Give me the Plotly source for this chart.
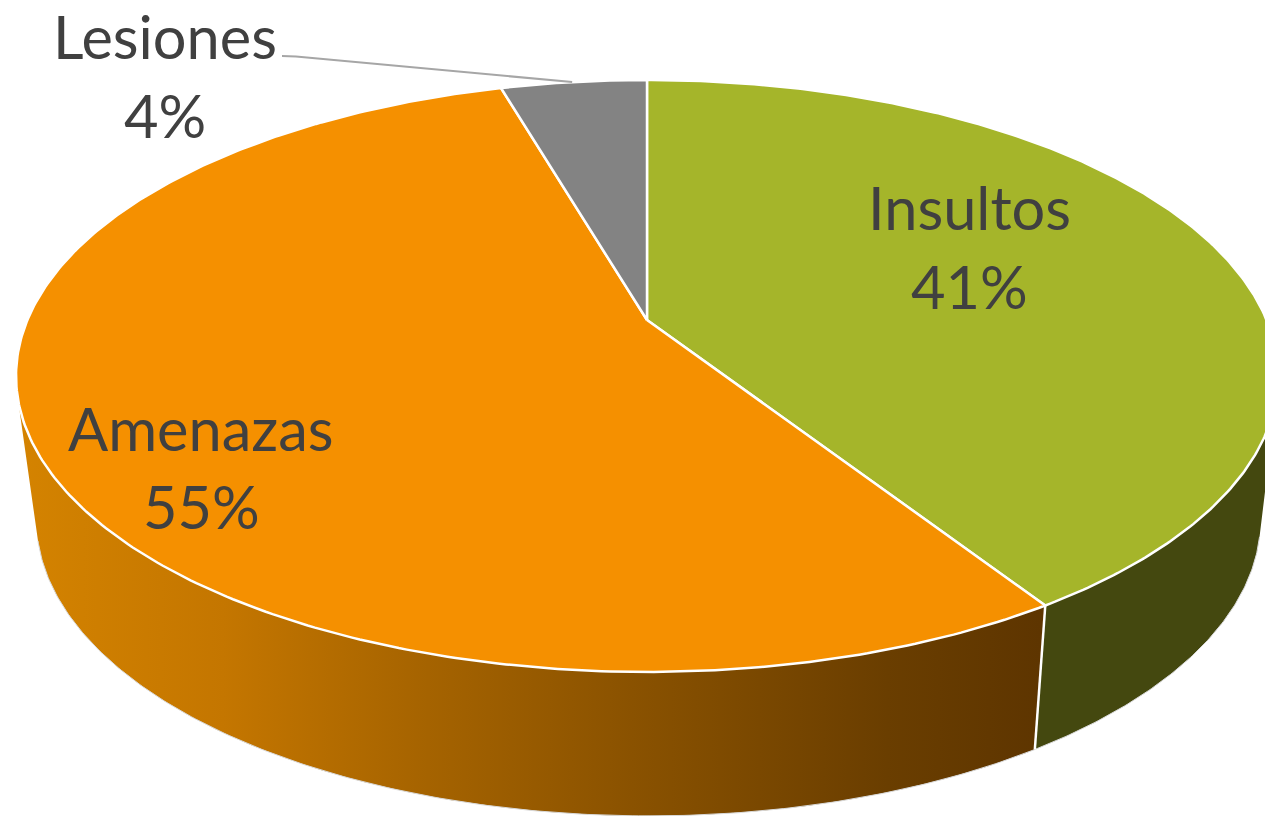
import numpy as np
import plotly.graph_objects as go

categories = ["Insultos", "Amenazas", "Lesiones"]
values = [40.91, 54.6, 4.49]
labels_pct = ["41%", "55%", "4%"]
top_colors = ["#A5B52A", "#F59000", "#838383"]

# Perspective projection of the pie disc
CX, CY = 647.0, 320.0
A, B, K = 619.6, 285.4, 0.189
DEPTH, SHRINK, SHIFT = 144.0, 0.97, 1.5
WIDTH, HEIGHT = 1265, 816


def rim(theta):
    s, c = np.sin(theta), np.cos(theta)
    d = 1 + K * c
    return CX + A * s / d, CY - B * c / d


def lower(x, y):
    return CX + SHIFT + SHRINK * (x - CX), y + DEPTH


def front_mask(theta):
    x, y = rim(theta)
    xb, yb = lower(x, y)
    dx, dy = rim(theta + 1e-4)
    dx, dy = dx - x, dy - y
    return dx * (yb - y) - dy * (xb - x) < 0


fractions = np.cumsum([0] + values) / sum(values)
angles = 2 * np.pi * fractions

fig = go.Figure()


def add_poly(xs, ys, color, line=None, lw=0):
    fig.add_trace(go.Scatter(
        x=np.asarray(xs), y=np.asarray(ys), mode="lines", fill="toself",
        line=dict(color=line or "rgba(0,0,0,0)", width=lw),
        fillcolor=color, hoverinfo="skip", showlegend=False))


def add_line(xs, ys, color, lw):
    fig.add_trace(go.Scatter(
        x=np.asarray(xs), y=np.asarray(ys), mode="lines",
        line=dict(color=color, width=lw), hoverinfo="skip", showlegend=False))


side_styles = [
    dict(fillcolor="#44480F"),
    dict(fillgradient=dict(
        type="horizontal", start=20, stop=1040,
        colorscale=[[0.0, "#D48300"], [0.2, "#C47600"], [0.4, "#A56300"],
                    [0.6, "#8A5200"], [0.85, "#6A3E00"], [1.0, "#5E3500"]])),
    None,
]

# Side walls
for i in range(len(values)):
    t = np.linspace(angles[i], angles[i + 1], 400)
    t = t[front_mask(t)]
    if side_styles[i] is None or t.size == 0:
        continue
    x, y = rim(t)
    xb, yb = lower(x, y)
    xs = np.concatenate([x, xb[::-1], x[:1]])
    ys = np.concatenate([y, yb[::-1], y[:1]])
    fig.add_trace(go.Scatter(
        x=xs, y=ys, mode="lines", fill="toself",
        line=dict(color="rgba(0,0,0,0)", width=0),
        hoverinfo="skip", showlegend=False, **side_styles[i]))
    add_line(xb, yb, "#D9D9D9", 1)

# Edge between the two side walls
xe, ye = rim(angles[1])
xeb, yeb = lower(xe, ye)
add_line([xe, xeb], [ye, yeb], "#FFFFFF", 2.5)

# Top faces
for i in range(len(values)):
    t = np.linspace(angles[i], angles[i + 1], 300)
    x, y = rim(t)
    xs = np.concatenate([[CX], x, [CX]])
    ys = np.concatenate([[CY], y, [CY]])
    add_poly(xs, ys, top_colors[i], line="#FFFFFF", lw=2.5)

# Leader line for the outer label
xl, yl = rim(angles[2] + 0.49 * (angles[3] - angles[2]))
add_line([282, 296, xl], [56, 56.5, yl], "#A6A6A6", 2)

label_pos = [(969, 207, 286), (201, 428, 506), (165, 36, 115)]
FONT = dict(family="Lato, Carlito, sans-serif", size=59.5, color="#404040")
annotations = []
for name, pct, (lx, y1, y2) in zip(categories, labels_pct, label_pos):
    for text, ly in ((name, y1), (pct, y2)):
        annotations.append(dict(x=lx, y=ly, text=text, showarrow=False,
                                xanchor="center", yanchor="middle", font=FONT))

fig.update_layout(
    width=WIDTH, height=HEIGHT, autosize=False,
    margin=dict(l=0, r=0, t=0, b=0),
    paper_bgcolor="#FFFFFF", plot_bgcolor="#FFFFFF",
    xaxis=dict(range=[0, WIDTH], visible=False, fixedrange=True),
    yaxis=dict(range=[HEIGHT, 0], visible=False, fixedrange=True),
    annotations=annotations, showlegend=False,
)

fig.write_html("out.html", config=dict(displayModeBar=False),
               post_script="document.body.style.margin='0';document.body.style.overflow='hidden';")
